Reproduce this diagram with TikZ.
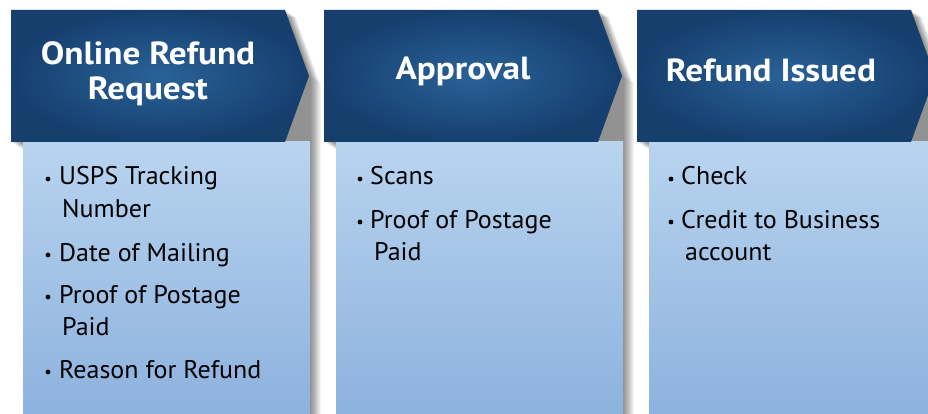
\documentclass[tikz,border=0pt]{standalone}
\usepackage{fontspec}
\setmainfont{PT Sans}
\newfontfamily\headfont[FakeStretch=1.1]{PT Sans Bold}
\newfontfamily\bodyfont[FakeStretch=1.02]{PT Sans}
\definecolor{headin}{RGB}{42,98,152}
\definecolor{headout}{RGB}{22,63,110}
\definecolor{boxtop}{RGB}{184,212,239}
\definecolor{boxbot}{RGB}{138,176,221}
\begin{document}
\begin{tikzpicture}[x=1pt,y=-1pt,
  headtxt/.style={font=\headfont\fontsize{32}{36}\selectfont, text=white, anchor=base, inner sep=0},
  itemtxt/.style={font=\bodyfont\fontsize{25.5}{30}\selectfont, anchor=base west, inner sep=0},
  bulletdot/.style={circle, fill=black, inner sep=0, minimum size=4.8pt},
]
\useasboundingbox (0,0) rectangle (928,414);
\clip (0,0) rectangle (928,414);
\fill[white] (0,0) rectangle (928,414);
% soft drop shadows behind each column
\foreach \X in {0,313,626} {
  \foreach \k in {1,...,12} {
    \fill[black, opacity=0.045, shift={(\k*0.9,\k*0.6)}]
      (\X+11,10) -- (\X+285,10) -- (\X+309,76) -- (\X+310,76) -- (\X+310,430)
      -- (\X+23,430) -- (\X+23,142) -- (\X+11,142) -- cycle;
  }
}
% body panels and chevron headers
\foreach \X in {0,313,626} {
  \shade[top color=boxtop, bottom color=boxbot] (\X+23,142) rectangle (\X+310,430);
  \shade[inner color=headin, outer color=headout]
    (\X+11,10) -- (\X+285,10) -- (\X+309,76) -- (\X+285,142) -- (\X+11,142) -- cycle;
}
% headings
\node[headtxt] (h1a) at (148,65) {Online Refund};
\node[headtxt] (h1b) at (148,100) {Request};
\node[headtxt] (h2) at (463,80) {Approval};
\node[headtxt] (h3) at (771,82) {Refund Issued};
% column 1
\node[bulletdot] (b1a) at (48,179) {};
\node[itemtxt] (t1a) at (59,185) {USPS Tracking};
\node[itemtxt] (t1a2) at (62,217) {Number};
\node[bulletdot] (b1b) at (48,255) {};
\node[itemtxt] (t1b) at (59,261) {Date of Mailing};
\node[bulletdot] (b1c) at (48,297) {};
\node[itemtxt] (t1c) at (59,303) {Proof of Postage};
\node[itemtxt] (t1c2) at (62,335) {Paid};
\node[bulletdot] (b1d) at (48,372) {};
\node[itemtxt] (t1d) at (59,378) {Reason for Refund};
% column 2
\node[bulletdot] (b2a) at (360,179) {};
\node[itemtxt] (t2a) at (370,185) {Scans};
\node[bulletdot] (b2b) at (360,222) {};
\node[itemtxt] (t2b) at (370,228) {Proof of Postage};
\node[itemtxt] (t2b2) at (374,260) {Paid};
% column 3
\node[bulletdot] (b3a) at (671,179) {};
\node[itemtxt] (t3a) at (681,185) {Check};
\node[bulletdot] (b3b) at (671,222) {};
\node[itemtxt] (t3b) at (681,228) {Credit to Business};
\node[itemtxt] (t3b2) at (685,260) {account};
\end{tikzpicture}
\end{document}
